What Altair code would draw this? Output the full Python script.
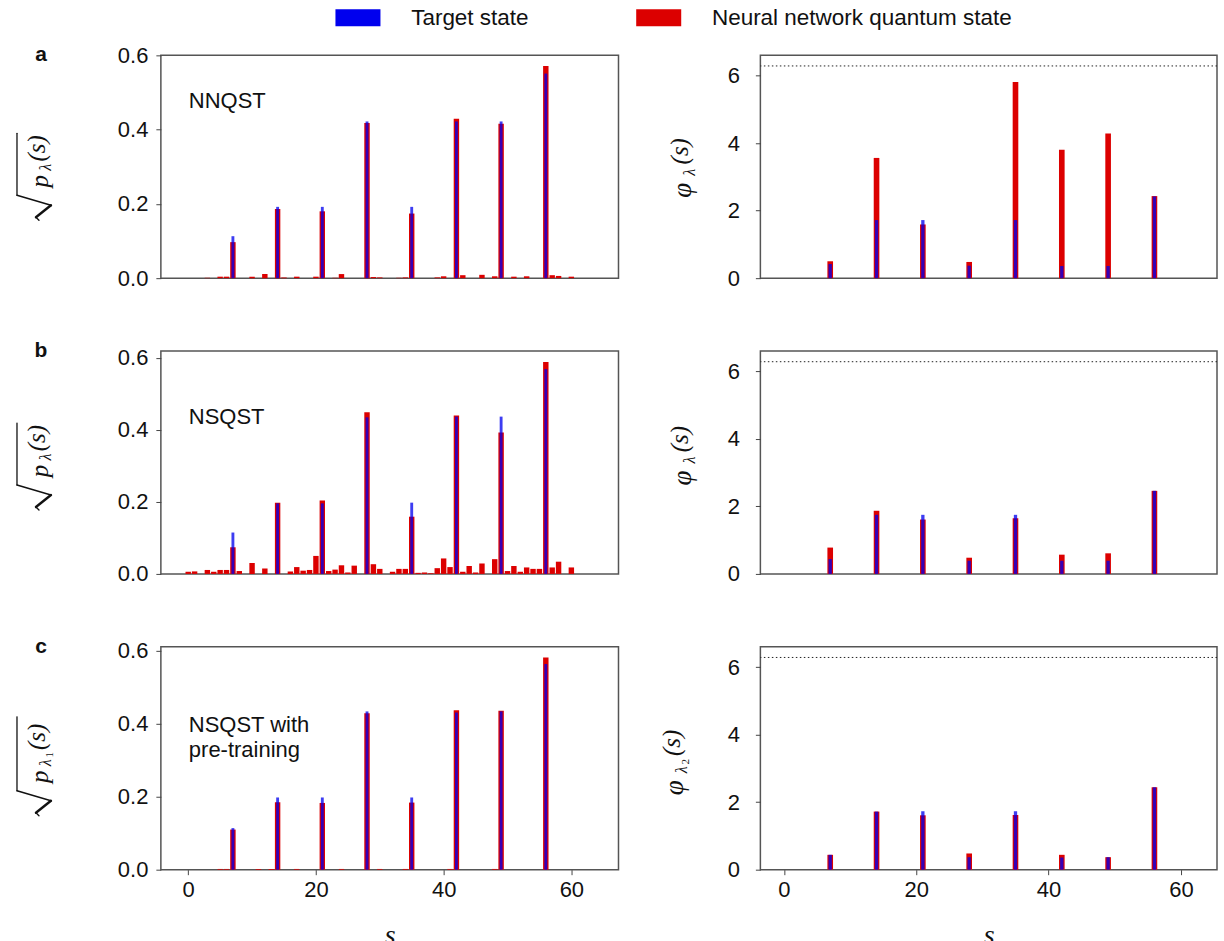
import altair as alt
import pandas as pd

# ---------------------------------------------------------------------------
# Data: basis states s, amplitudes sqrt(p(s)) and phases phi(s)
# ---------------------------------------------------------------------------
S_MAIN = [7, 14, 21, 28, 35, 42, 49, 56]
SERIES = ["Target state", "Neural network quantum state"]
COLORS = ["#0000ee", "#dc0000"]
TWO_PI = 6.283

# (a) NNQST
AMP_TARGET_A = [0.113, 0.192, 0.192, 0.422, 0.192, 0.422, 0.422, 0.551]
AMP_NN_A = [0.097, 0.186, 0.180, 0.418, 0.174, 0.429, 0.416, 0.571]
SMALL_S_A = [3, 5, 6, 10, 12, 15, 17, 20, 23, 24, 29, 30, 33, 34, 39, 40,
             43, 46, 48, 51, 53, 57, 58, 60]
SMALL_A = [0.001, 0.004, 0.004, 0.004, 0.011, 0.002, 0.004, 0.004, 0.001,
           0.011, 0.003, 0.002, 0.001, 0.002, 0.002, 0.005, 0.008, 0.009,
           0.005, 0.004, 0.005, 0.008, 0.006, 0.004]
PHASE_TARGET_A = [0.42, 1.72, 1.72, 0.37, 1.72, 0.36, 0.36, 2.42]
PHASE_NN_A = [0.50, 3.56, 1.59, 0.48, 5.81, 3.80, 4.28, 2.43]

# (b) NSQST
AMP_TARGET_B = [0.115, 0.196, 0.196, 0.435, 0.198, 0.437, 0.437, 0.569]
AMP_NN_B = [0.074, 0.198, 0.204, 0.449, 0.159, 0.440, 0.393, 0.589]
SMALL_S_B = [0, 1, 3, 4, 5, 6, 8, 10, 12, 16, 17, 18, 19, 20, 22, 23, 24,
             25, 26, 29, 30, 32, 33, 34, 36, 37, 38, 39, 40, 41, 43, 44, 45,
             46, 48, 50, 51, 52, 53, 54, 55, 57, 58, 60]
SMALL_B = [0.006, 0.007, 0.011, 0.006, 0.011, 0.011, 0.008, 0.030, 0.015,
           0.007, 0.019, 0.009, 0.011, 0.050, 0.008, 0.012, 0.024, 0.004,
           0.023, 0.027, 0.014, 0.006, 0.014, 0.014, 0.003, 0.004, 0.002,
           0.016, 0.043, 0.019, 0.006, 0.022, 0.004, 0.029, 0.041, 0.008,
           0.022, 0.006, 0.018, 0.014, 0.014, 0.018, 0.034, 0.018]
PHASE_TARGET_B = [0.44, 1.75, 1.75, 0.39, 1.75, 0.39, 0.39, 2.46]
PHASE_NN_B = [0.78, 1.87, 1.61, 0.48, 1.65, 0.57, 0.61, 2.46]

# (c) NSQST with pre-training
AMP_TARGET_C = [0.114, 0.198, 0.198, 0.434, 0.198, 0.431, 0.434, 0.564]
AMP_NN_C = [0.110, 0.185, 0.183, 0.429, 0.184, 0.437, 0.436, 0.582]
SMALL_S_C = [5, 6, 11, 13, 17, 24, 30, 34, 41, 48]
SMALL_C = [0.002, 0.002, 0.002, 0.002, 0.002, 0.002, 0.002, 0.002, 0.002,
           0.002]
PHASE_TARGET_C = [0.44, 1.72, 1.73, 0.37, 1.73, 0.36, 0.37, 2.44]
PHASE_NN_C = [0.44, 1.72, 1.61, 0.48, 1.62, 0.44, 0.37, 2.44]

# Axis ranges of each panel
AMP_TOP = {"a": 0.600, "b": 0.619, "c": 0.611}
PHASE_TOP = 6.597
X_LEFT = [-3.5, 66.6]
X_RIGHT = [-2.8, 64.7]

PLOT_W = 458
PLOT_H = 223
SANS = "Liberation Sans"
SERIF = "Liberation Serif"
FRAME = "#555555"
TICK_FONT = 22


def frame_df(s_values, values, series):
    return pd.DataFrame({"s": s_values, "v": values, "series": series})


color_enc = alt.Color(
    "series:N",
    scale=alt.Scale(domain=SERIES, range=COLORS),
    legend=alt.Legend(title=None),
)


def bars(df, x_domain, y_top, y_ticks, y_fmt, show_x, width, opacity, y_label_pad):
    x_axis = (
        alt.Axis(values=[0, 20, 40, 60], format="d", labelFont=SANS,
                 labelFontSize=TICK_FONT, labelColor="#111", tickSize=5,
                 tickColor="#444", domain=False, grid=False, labelPadding=5,
                 title="s", titleFont=SERIF, titleFontStyle="italic",
                 titleFontSize=28, titleFontWeight="normal",
                 titlePadding=21, titleColor="#111")
        if show_x else None
    )
    return (
        alt.Chart(df)
        .transform_calculate(x0=f"datum.s - {width / 2}", x1=f"datum.s + {width / 2}")
        .mark_bar(opacity=opacity, orient="vertical")
        .encode(
            x=alt.X("x0:Q", scale=alt.Scale(domain=x_domain, nice=False, zero=False),
                    axis=x_axis),
            x2="x1:Q",
            y=alt.Y("v:Q", scale=alt.Scale(domain=[0, y_top], nice=False),
                    axis=alt.Axis(values=y_ticks, format=y_fmt, labelFont=SANS,
                                  labelFontSize=TICK_FONT, labelColor="#111",
                                  tickSize=5, tickColor="#444", domain=False,
                                  grid=False, labelPadding=y_label_pad,
                                  title=None)),
            y2=alt.datum(0),
            color=color_enc,
        )
    )


one_row = pd.DataFrame({"k": [0]})


def txt(text, x, y, size, font=SERIF, style="normal", weight="normal",
        angle=270, align="center"):
    return (
        alt.Chart(one_row)
        .mark_text(text=text, font=font, fontSize=size, fontStyle=style,
                   fontWeight=weight, angle=angle, align=align,
                   baseline="middle", color="#111")
        .encode(x=alt.value(x), y=alt.value(y))
    )


def stroke(x1, y1, x2, y2, width=1.3):
    return (
        alt.Chart(one_row)
        .mark_rule(color="#111", strokeWidth=width, strokeCap="round")
        .encode(x=alt.value(x1), y=alt.value(y1), x2=alt.value(x2),
                y2=alt.value(y2))
    )


def amp_title(dy, sub2=None, top=78):
    # rotated radical sign: overline, long stroke, short tick
    parts = [
        stroke(-144, top + dy, -144, 140 + dy),
        stroke(-144, 140 + dy, -110, 150 + dy, 1.4),
        stroke(-110, 150 + dy, -125, 162 + dy, 2.4),
        stroke(-125, 162 + dy, -122, 165 + dy, 1.4),
        txt("p", -121, 126 + dy, 25, style="italic"),
        txt("\u03bb", -115, 112 + dy, 16, style="italic"),
    ]
    if sub2:
        parts.append(txt(sub2, -111, 104 + dy, 11))
        parts.append(txt("(s)", -124, 86 + dy, 25, style="italic"))
    else:
        parts.append(txt("(s)", -124, 93 + dy, 25, style="italic"))
    return parts


def phase_title(dx, dy, sub2=None):
    parts = [
        txt("\u03c6", -77 + dx, 135 + dy, 27, style="italic"),
        txt("\u03bb", -70 + dx, 117 + dy, 16, style="italic"),
    ]
    if sub2:
        parts.append(txt(sub2, -66 + dx, 109 + dy, 11))
        parts.append(txt("(s)", -80 + dx, 90 + dy, 25, style="italic"))
    else:
        parts.append(txt("(s)", -80 + dx, 96 + dy, 25, style="italic"))
    return parts


def amp_panel(key, target, nn, small_s, small, show_x, note_lines, note_y,
              title_dy, sub2=None, title_top=78):
    red = frame_df(S_MAIN + small_s, nn + small, SERIES[1])
    blue = frame_df(S_MAIN, target, SERIES[0])
    ticks = [0, 0.2, 0.4, 0.6]
    layers = [
        bars(red, X_LEFT, AMP_TOP[key], ticks, ".1f", show_x, 0.85, 1.0, 8),
        bars(blue, X_LEFT, AMP_TOP[key], ticks, ".1f", show_x, 0.45, 0.76, 8),
    ]
    for i, line in enumerate(note_lines):
        layers.append(txt(line, 28, note_y + 25 * i, 22, font=SANS, angle=0,
                          align="left"))
    layers.append(txt(key, -120, 0, 21, font=SANS, weight="bold", angle=0))
    layers += amp_title(title_dy, sub2, title_top)
    return alt.layer(*layers).properties(width=PLOT_W, height=PLOT_H)


def phase_panel(target, nn, show_x, title_dx, title_dy, sub2=None):
    red = frame_df(S_MAIN, nn, SERIES[1])
    blue = frame_df(S_MAIN, target, SERIES[0])
    ticks = [0, 2, 4, 6]
    dotted = (
        alt.Chart(one_row)
        .mark_rule(color="#222", strokeDash=[1.5, 2.5], strokeWidth=1)
        .encode(y=alt.datum(TWO_PI))
    )
    layers = [
        bars(red, X_RIGHT, PHASE_TOP, ticks, "d", show_x, 0.85, 1.0, 16),
        bars(blue, X_RIGHT, PHASE_TOP, ticks, "d", show_x, 0.5, 0.76, 16),
        dotted,
    ]
    layers += phase_title(title_dx, title_dy, sub2)
    return alt.layer(*layers).properties(width=PLOT_W - 1, height=PLOT_H)


panels = [
    amp_panel("a", AMP_TARGET_A, AMP_NN_A, SMALL_S_A, SMALL_A, False,
              ["NNQST"], 46, 0),
    phase_panel(PHASE_TARGET_A, PHASE_NN_A, False, 0, 0),
    amp_panel("b", AMP_TARGET_B, AMP_NN_B, SMALL_S_B, SMALL_B, False,
              ["NSQST"], 66, -6),
    phase_panel(PHASE_TARGET_B, PHASE_NN_B, False, 0, -8),
    amp_panel("c", AMP_TARGET_C, AMP_NN_C, SMALL_S_C, SMALL_C, True,
              ["NSQST with", "pre-training"], 78, 4, sub2="1", title_top=66),
    phase_panel(PHASE_TARGET_C, PHASE_NN_C, True, -8, 6, sub2="2"),
]

chart = (
    alt.concat(*panels, columns=2, spacing={"row": 73, "column": 142},
               bounds="flush")
    .properties(padding={"left": 15, "top": 6, "right": 5, "bottom": 5})
    .configure_view(stroke=FRAME, strokeWidth=1.5)
    .configure_legend(
        orient="none",
        legendX=186,
        legendY=-49,
        direction="horizontal",
        symbolType="M-2.65,-1L2.65,-1L2.65,1L-2.65,1Z",
        symbolSize=289,
        symbolStrokeWidth=0,
        symbolOpacity=1,
        labelFont=SANS,
        labelFontSize=22.5,
        labelColor="#111",
        labelOffset=42,
        labelLimit=500,
        columnPadding=106,
    )
)

chart.save("out.html", embed_options={"renderer": "svg", "actions": False})
